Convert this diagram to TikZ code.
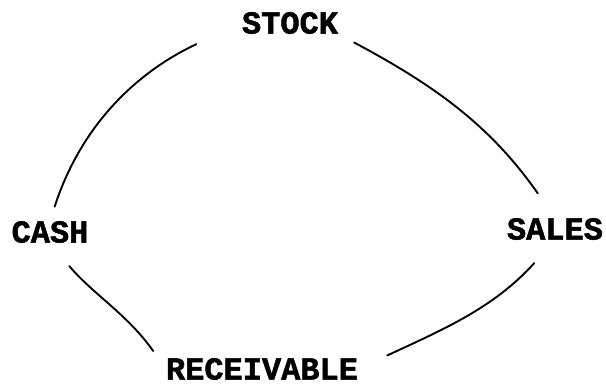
\documentclass[tikz,border=0pt]{standalone}
\usepackage{fontspec}
\setmonofont{Liberation Mono}[BoldFeatures={FakeBold=1.5}]
\usepackage{tikz}
\usetikzlibrary{positioning}

\begin{document}
\begin{tikzpicture}[x=1pt, y=1pt,
        item/.style={inner sep=0pt, font=\ttfamily\bfseries\fontsize{32}{36}\selectfont},
        link/.style={line width=1.9pt, line cap=round}]
        \useasboundingbox (0,0) rectangle (606,386);

        \node[item] (stock) at (290,363) {STOCK};
        \node[item] (cash) at (50,154) {CASH};
        \node[item] (sales) at (555,157) {SALES};
        \node[item] (receivable) at (262,17) {RECEIVABLE};

        \draw[link, shorten <=15pt, shorten >=50pt] (cash.north) to[out=72, in=205] (stock.west);
        \draw[link, shorten <=18pt, shorten >=30pt] (stock.south east) to[out=-28, in=125] (sales.north);
        \draw[link, shorten <=31pt, shorten >=32pt] (sales.south) to[out=228, in=25] (receivable.east);
        \draw[link, shorten <=30pt, shorten >=22pt] (cash.south) to[out=-50, in=125] (receivable.west);
    \end{tikzpicture}
\end{document}
